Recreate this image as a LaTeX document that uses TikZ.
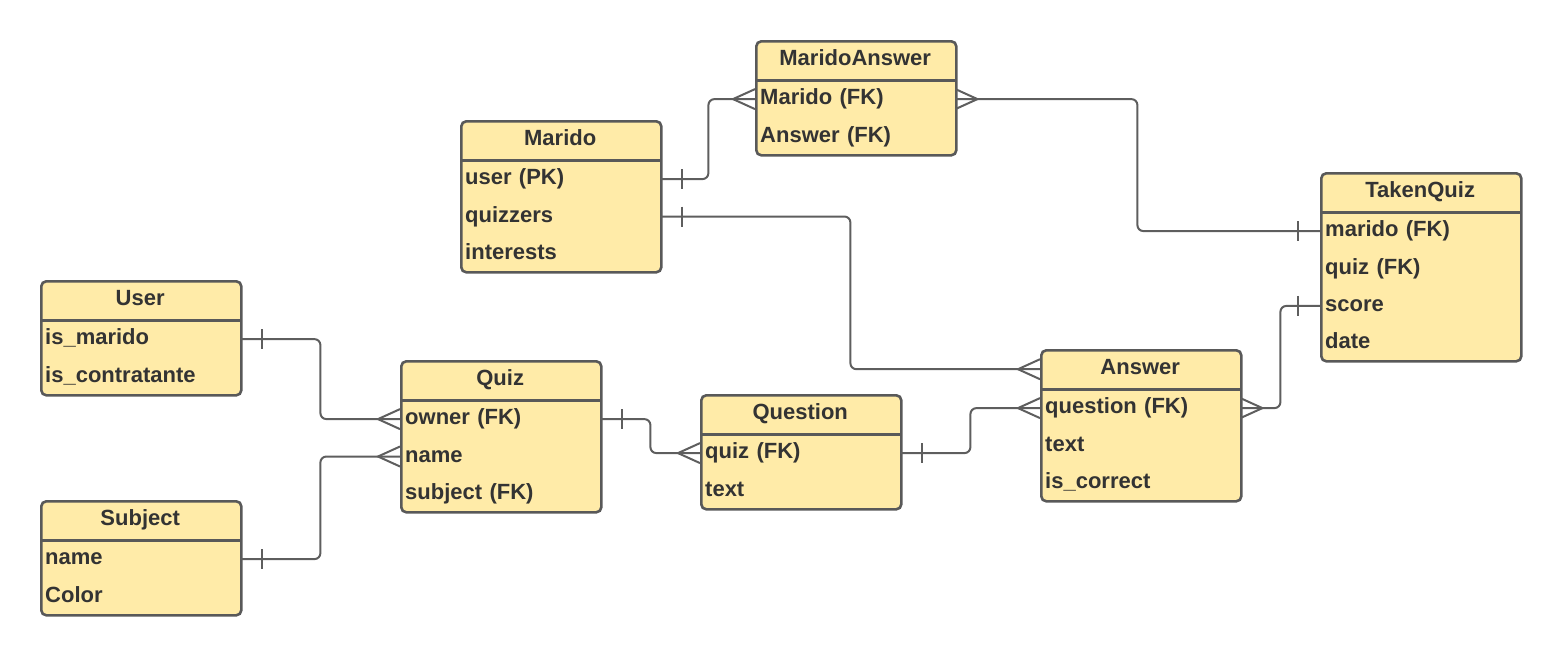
\documentclass[tikz,border=0pt]{standalone}
\usepackage{fontspec}
\setmainfont{Liberation Sans}
\usepackage{tikz}
\usetikzlibrary{positioning,calc}
\definecolor{BoxFill}{HTML}{FFEBA8}
\definecolor{BoxLine}{HTML}{595959}
\definecolor{TextDark}{HTML}{333333}
\definecolor{RelLine}{HTML}{5E5E5E}

\begin{document}
\begin{tikzpicture}[
  x=1pt, y=-1pt,
  box/.style={draw=BoxLine, fill=BoxFill, line width=2.6pt, rounded corners=5pt, minimum width=200pt, anchor=north west, inner sep=0pt},
  head/.style={font=\bfseries\fontsize{22}{26}\selectfont, text=TextDark, text height=16pt, text depth=5pt, minimum width=200pt, minimum height=40pt, inner sep=0pt, anchor=north west},
  field/.style={font=\bfseries\fontsize{22}{26}\selectfont, text=TextDark, text height=16pt, text depth=5pt, text width=190pt, align=left, inner xsep=5pt, inner ysep=0pt, minimum height=37pt, anchor=north west},
  divider/.style={draw=BoxLine, line width=2.6pt},
  rel/.style={draw=RelLine, line width=2pt, rounded corners=6pt},
  crowfoot/.pic={\draw[rel, rounded corners=0pt] (0,-10) -- (-22,0) -- (0,10);},
  onebar/.pic={\draw[rel] (-22,-10) -- (-22,10);}
]
\useasboundingbox (0,0) rectangle (1560,654);

% User
\node[box, minimum height=114pt] (user) at (40,280) {};
\node[head] (user-h) at (user.north west) {User};
\draw[divider] (user-h.south west) -- (user-h.south east);
\node[field] (user-1) at (user-h.south west) {is\_marido};
\node[field] (user-2) at (user-1.south west) {is\_contratante};

% Subject
\node[box, minimum height=114pt] (subject) at (40,500) {};
\node[head] (subject-h) at (subject.north west) {Subject};
\draw[divider] (subject-h.south west) -- (subject-h.south east);
\node[field] (subject-1) at (subject-h.south west) {name};
\node[field] (subject-2) at (subject-1.south west) {Color};

% Marido
\node[box, minimum height=151pt] (marido) at (460,120) {};
\node[head] (marido-h) at (marido.north west) {Marido};
\draw[divider] (marido-h.south west) -- (marido-h.south east);
\node[field] (marido-1) at (marido-h.south west) {user (PK)};
\node[field] (marido-2) at (marido-1.south west) {quizzers};
\node[field] (marido-3) at (marido-2.south west) {interests};

% MaridoAnswer
\node[box, minimum height=114pt] (ma) at (755,40) {};
\node[head] (ma-h) at (ma.north west) {MaridoAnswer};
\draw[divider] (ma-h.south west) -- (ma-h.south east);
\node[field] (ma-1) at (ma-h.south west) {Marido (FK)};
\node[field] (ma-2) at (ma-1.south west) {Answer (FK)};

% Quiz
\node[box, minimum height=151pt] (quiz) at (400,360) {};
\node[head] (quiz-h) at (quiz.north west) {Quiz};
\draw[divider] (quiz-h.south west) -- (quiz-h.south east);
\node[field] (quiz-1) at (quiz-h.south west) {owner (FK)};
\node[field] (quiz-2) at (quiz-1.south west) {name};
\node[field] (quiz-3) at (quiz-2.south west) {subject (FK)};

% Question
\node[box, minimum height=114pt] (question) at (700,394) {};
\node[head] (question-h) at (question.north west) {Question};
\draw[divider] (question-h.south west) -- (question-h.south east);
\node[field] (question-1) at (question-h.south west) {quiz (FK)};
\node[field] (question-2) at (question-1.south west) {text};

% Answer
\node[box, minimum height=151pt] (answer) at (1040,349) {};
\node[head] (answer-h) at (answer.north west) {Answer};
\draw[divider] (answer-h.south west) -- (answer-h.south east);
\node[field] (answer-1) at (answer-h.south west) {question (FK)};
\node[field] (answer-2) at (answer-1.south west) {text};
\node[field] (answer-3) at (answer-2.south west) {is\_correct};

% TakenQuiz
\node[box, minimum height=188pt] (tq) at (1320,172) {};
\node[head] (tq-h) at (tq.north west) {TakenQuiz};
\draw[divider] (tq-h.south west) -- (tq-h.south east);
\node[field] (tq-1) at (tq-h.south west) {marido (FK)};
\node[field] (tq-2) at (tq-1.south west) {quiz (FK)};
\node[field] (tq-3) at (tq-2.south west) {score};
\node[field] (tq-4) at (tq-3.south west) {date};

% Relations
\draw[rel] (marido-1.east) -- ++(48,0) |- (ma-1.west);
\draw[rel] (ma-1.east) -- ++(182,0) |- (tq-1.west);
\draw[rel] (marido-2.east) -- ++(190,0) |- (answer-h.west);
\draw[rel] (user-1.east) -- ++(80,0) |- (quiz-1.west);
\draw[rel] (subject-1.east) -- ++(80,0) |- (quiz-2.west);
\draw[rel] (quiz-1.east) -- ++(50,0) |- (question-1.west);
\draw[rel] (question-1.east) -- ++(70,0) |- (answer-1.west);
\draw[rel] (answer-1.east) -- ++(40,0) |- (tq-3.west);

% Ends: one
\pic[xscale=-1] at (marido-1.east) {onebar};
\pic[xscale=-1] at (marido-2.east) {onebar};
\pic at (tq-1.west) {onebar};
\pic at (tq-3.west) {onebar};
\pic[xscale=-1] at (user-1.east) {onebar};
\pic[xscale=-1] at (subject-1.east) {onebar};
\pic[xscale=-1] at (quiz-1.east) {onebar};
\pic[xscale=-1] at (question-1.east) {onebar};

% Ends: many
\pic at (ma-1.west) {crowfoot};
\pic[xscale=-1] at (ma-1.east) {crowfoot};
\pic at (answer-h.west) {crowfoot};
\pic at (quiz-1.west) {crowfoot};
\pic at (quiz-2.west) {crowfoot};
\pic at (question-1.west) {crowfoot};
\pic at (answer-1.west) {crowfoot};
\pic[xscale=-1] at (answer-1.east) {crowfoot};

\end{tikzpicture}
\end{document}
